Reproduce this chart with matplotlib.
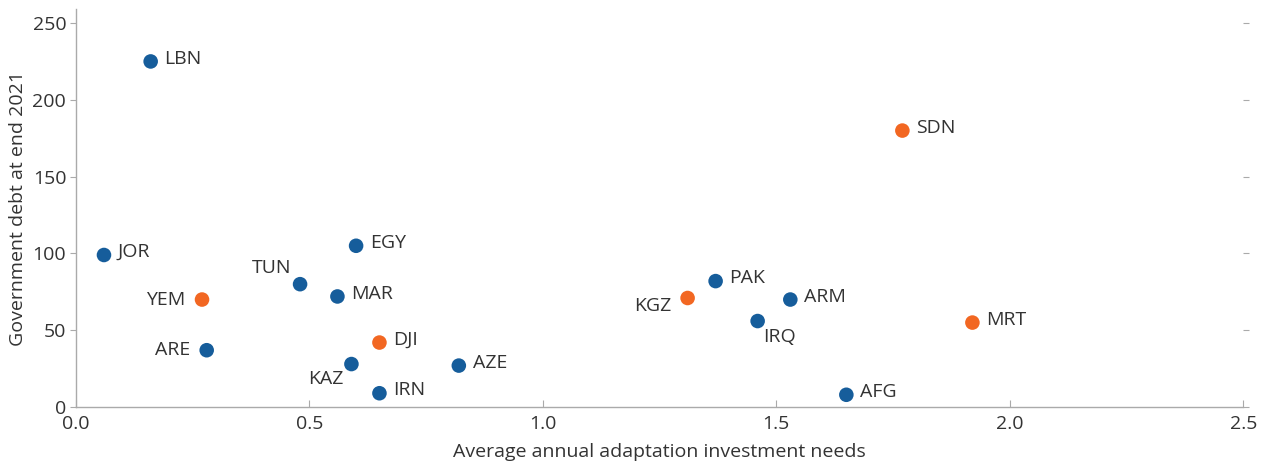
import matplotlib
matplotlib.use("Agg")
import matplotlib.pyplot as plt

# =========================
# DATA
# =========================
countries = ["LBN", "JOR", "SDN", "EGY", "TUN", "MAR", "YEM", "KGZ", "PAK",
             "ARM", "IRQ", "MRT", "ARE", "DJI", "KAZ", "AZE", "IRN", "AFG"]
adapt_needs = [0.16, 0.06, 1.77, 0.60, 0.48, 0.56, 0.27, 1.31, 1.37,
               1.53, 1.46, 1.92, 0.28, 0.65, 0.59, 0.82, 0.65, 1.65]
gov_debt = [225, 99, 180, 105, 80, 72, 70, 71, 82,
            70, 56, 55, 37, 42, 28, 27, 9, 8]
highlight = ["SDN", "YEM", "KGZ", "MRT", "DJI"]

# label placement (offset in points, alignment)
label_pos = {
    "TUN": (-6, 5, "right", "bottom"),
    "YEM": (-12, 0, "right", "center"),
    "ARE": (-12, 0, "right", "center"),
    "KGZ": (-12, -6, "right", "center"),
    "KAZ": (-6, -4, "right", "top"),
    "IRQ": (4, -5, "left", "top"),
}

BLUE = "#165d9b"
ORANGE = "#f26722"
TEXT = "#333333"
GREY = "#aaaaaa"

plt.rcParams["font.family"] = ["Open Sans", "DejaVu Sans"]

fig = plt.figure(figsize=(12.66, 4.61), dpi=100)
ax = fig.add_axes([0.060, 0.117, 0.922, 0.863])

colors = [ORANGE if c in highlight else BLUE for c in countries]
ax.scatter(adapt_needs, gov_debt, s=110, c=colors, zorder=3, linewidths=0)

for c, x, y in zip(countries, adapt_needs, gov_debt):
    dx, dy, ha, va = label_pos.get(c, (10, 2, "left", "center"))
    ax.annotate(c, (x, y), xytext=(dx, dy), textcoords="offset points",
                ha=ha, va=va, fontsize=14, color=TEXT)

ax.set_xlim(0, 2.5)
ax.set_ylim(0, 259)
ax.set_xticks([0.0, 0.5, 1.0, 1.5, 2.0, 2.5])
ax.set_yticks([0, 50, 100, 150, 200, 250])

for s in ["top", "right"]:
    ax.spines[s].set_visible(False)
for s in ["left", "bottom"]:
    ax.spines[s].set_color(GREY)
    ax.spines[s].set_linewidth(1.0)

ax.tick_params(axis="x", direction="in", length=5, color=GREY,
               labelsize=14, labelcolor=TEXT, pad=6)
ax.tick_params(axis="y", direction="out", length=4, color=GREY,
               labelsize=14, labelcolor=TEXT, right=True, pad=3)

ax.set_xlabel("Average annual adaptation investment needs",
              fontsize=14, color=TEXT, labelpad=7)
ax.set_ylabel("Government debt at end 2021", fontsize=14, color=TEXT,
              labelpad=4)

fig.savefig("out.png", dpi=100)
